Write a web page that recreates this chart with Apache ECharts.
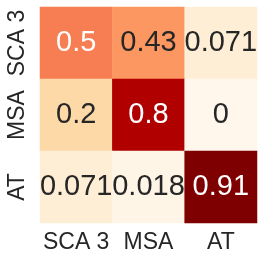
<!DOCTYPE html>
<html><head><meta charset="utf-8">
<script src="https://cdn.jsdelivr.net/npm/echarts@6/dist/echarts.min.js"></script>
<style>html,body{margin:0;padding:0;background:#fff}#c{width:265px;height:264px}</style>
</head><body><div id="c"></div>
<script>
const xCategories = ['SCA 3', 'MSA', 'AT'];
const yCategories = ['SCA 3', 'MSA', 'AT'];
const rowSCA3 = [0.5, 0.43, 0.071];
const rowMSA = [0.2, 0.8, 0];
const rowAT = [0.071, 0.018, 0.91];
const rows = [rowSCA3, rowMSA, rowAT];
const labelText = [['0.5','0.43','0.071'],['0.2','0.8','0'],['0.071','0.018','0.91']];

const data = [];
rows.forEach((r, yi) => r.forEach((v, xi) => {
  data.push({
    value: [xi, yi, v],
    label: { color: v > 0.45 ? '#ffffff' : '#262626', formatter: labelText[yi][xi] }
  });
}));

const font = "'Liberation Sans', Arial, sans-serif";
const chart = echarts.init(document.getElementById('c'), null, {renderer: 'canvas'});
chart.setOption({
  animation: false,
  grid: { left: 40, right: 8, top: 7, bottom: 41 },
  xAxis: {
    type: 'category', data: xCategories,
    axisLine: {show: false}, axisTick: {show: false}, splitLine: {show: false},
    axisLabel: { interval: 0, hideOverlap: false, fontSize: 23, color: '#262626', fontFamily: font, margin: 8 }
  },
  yAxis: {
    type: 'category', data: yCategories, inverse: true,
    axisLine: {show: false}, axisTick: {show: false}, splitLine: {show: false},
    axisLabel: { interval: 0, hideOverlap: false, fontSize: 23, color: '#262626', fontFamily: font, rotate: 90, margin: 11 }
  },
  visualMap: {
    show: false, min: 0, max: 0.91, dimension: 2,
    inRange: { color: ['#fff7ec','#fee8c8','#fdd49e','#fdbb84','#fc8d59','#ef6548','#d7301f','#b30000','#7f0000'] }
  },
  series: [{
    type: 'heatmap', data: data,
    label: { show: true, fontSize: 29, fontFamily: font },
    itemStyle: { borderWidth: 0 }
  }]
});
</script></body></html>
